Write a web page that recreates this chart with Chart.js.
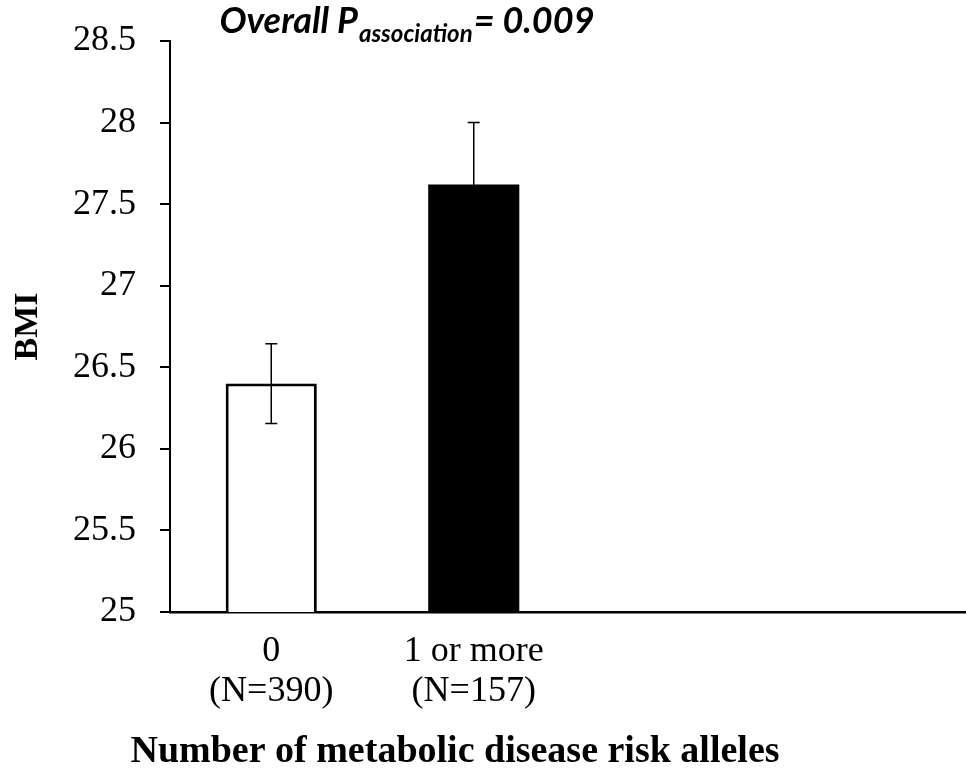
<!DOCTYPE html>
<html>
<head>
<meta charset="utf-8">
<script src="https://cdn.jsdelivr.net/npm/chart.js@4.4.1/dist/chart.umd.min.js"></script>
<style>
  html, body { margin: 0; padding: 0; background: #fff; overflow: hidden; }
  #wrap { width: 966px; height: 778px; overflow: hidden; position: relative; }
  canvas { display: block; }
</style>
</head>
<body>
<div id="wrap"><canvas id="c" width="982" height="778"></canvas></div>
<script>
// ---- data ----
const categories = [["0", "(N=390)"], ["1 or more", "(N=157)"], "", ""];
const bmiMeans = [26.40, 27.62, null, null];
const bmiErrors = [0.245, 0.38, null, null];
const barFills = ["#ffffff", "#000000"];
const yTickValues = [25, 25.5, 26, 26.5, 27, 27.5, 28, 28.5];
const yAxisTitle = "BMI";
const xAxisTitle = "Number of metabolic disease risk alleles";
const titleMain = "Overall P";
const titleSub = "association";
const titleTail = "= 0.009";

const errorBarPlugin = {
  id: "errorBars",
  afterDatasetsDraw(chart) {
    const ctx = chart.ctx;
    const meta = chart.getDatasetMeta(0);
    const ys = chart.scales.y;
    ctx.save();
    ctx.strokeStyle = "#000";
    ctx.lineWidth = 1.5;
    meta.data.forEach((bar, i) => {
      const v = bmiMeans[i], e = bmiErrors[i];
      if (v == null || e == null) return;
      const x = bar.x;
      const yt = ys.getPixelForValue(v + e);
      const yb = ys.getPixelForValue(v - e);
      const cap = 6;
      ctx.beginPath();
      ctx.moveTo(x, yt); ctx.lineTo(x, yb);
      ctx.moveTo(x - cap, yt); ctx.lineTo(x + cap, yt);
      ctx.moveTo(x - cap, yb); ctx.lineTo(x + cap, yb);
      ctx.stroke();
    });
    ctx.restore();
  }
};

const textPlugin = {
  id: "texts",
  afterDraw(chart) {
    const ctx = chart.ctx;
    ctx.save();
    ctx.fillStyle = "#000";
    // title with subscript
    const fMain = "italic bold 36px Lato, 'Open Sans', sans-serif";
    const fSub = "italic bold 24px Lato, 'Open Sans', sans-serif";
    ctx.font = fMain;
    const w1 = ctx.measureText(titleMain).width;
    const w3 = ctx.measureText(titleTail).width;
    ctx.font = fSub;
    const w2 = ctx.measureText(titleSub).width;
    const total = w1 + w2 + w3 + 2;
    let x = 407 - total / 2;
    const base = 33;
    ctx.textBaseline = "alphabetic";
    ctx.textAlign = "left";
    ctx.font = fMain; ctx.fillText(titleMain, x, base); x += w1 + 1;
    ctx.font = fSub; ctx.fillText(titleSub, x, base + 9); x += w2 + 1;
    ctx.font = fMain; ctx.fillText(titleTail, x, base);
    // x axis title
    ctx.font = "bold 38px 'Liberation Serif', 'Times New Roman', serif";
    ctx.textAlign = "center";
    ctx.textBaseline = "middle";
    ctx.fillText(xAxisTitle, 455, 752);
    ctx.restore();
  }
};

new Chart(document.getElementById("c"), {
  type: "bar",
  data: {
    labels: categories,
    datasets: [{
      data: bmiMeans,
      backgroundColor: barFills,
      borderColor: "#000",
      borderWidth: [3, 0],
      borderSkipped: false,
      barPercentage: 0.45,
      categoryPercentage: 1.0
    }]
  },
  options: {
    responsive: false,
    animation: false,
    devicePixelRatio: 1,
    layout: { padding: { top: 41, right: 2, left: 0, bottom: 0 } },
    plugins: { legend: { display: false }, tooltip: { enabled: false }, title: { display: false } },
    scales: {
      x: {
        grid: { drawOnChartArea: false, drawTicks: false },
        border: { color: "#000", width: 2.5 },
        ticks: {
          color: "#000",
          padding: 20,
          maxRotation: 0,
          autoSkip: false,
          font: { family: "'Liberation Serif', 'Times New Roman', serif", size: 36, lineHeight: 1.1 }
        },
        afterFit(scale) { scale.height = 166; }
      },
      y: {
        min: 25, max: 28.5,
        afterBuildTicks(scale) { scale.ticks = yTickValues.map(v => ({ value: v })); },
        grid: { drawOnChartArea: false, drawTicks: true, tickLength: 10, color: "#000", lineWidth: 2 },
        border: { color: "#000", width: 2 },
        ticks: {
          color: "#000",
          padding: 24,
          font: { family: "'Liberation Serif', 'Times New Roman', serif", size: 36 },
          callback: (v) => String(v)
        },
        title: {
          display: true,
          text: yAxisTitle,
          color: "#000",
          padding: { top: 8, bottom: 0 },
          font: { family: "'Liberation Serif', 'Times New Roman', serif", size: 34, weight: "bold" }
        },
        afterFit(scale) { scale.width = 170; scale.paddingTop = 0; scale.paddingBottom = 0; }
      }
    }
  },
  plugins: [errorBarPlugin, textPlugin]
});
</script>
</body>
</html>
